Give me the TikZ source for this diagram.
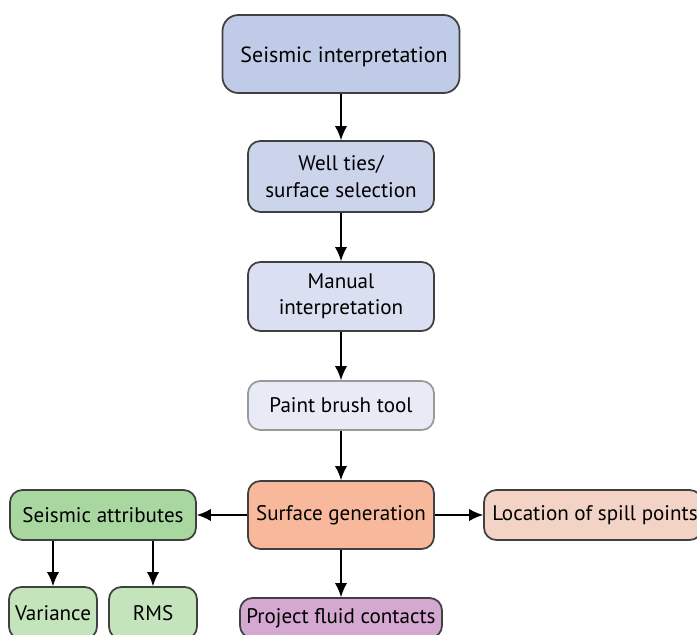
\documentclass[tikz,border=0pt]{standalone}
\usepackage{fontspec}
\setmainfont{PT Sans}
\usetikzlibrary{arrows.meta}
\definecolor{seisblue}{HTML}{C0CBE7}
\definecolor{wellblue}{HTML}{CCD4EC}
\definecolor{manblue}{HTML}{DAE0F2}
\definecolor{paintblue}{HTML}{E8EBF6}
\definecolor{surforange}{HTML}{F7B89C}
\definecolor{spillpink}{HTML}{F3D3C5}
\definecolor{attrgreen}{HTML}{A8D8A0}
\definecolor{lightgreen}{HTML}{C4E4BC}
\definecolor{fluidpurple}{HTML}{D4A8D0}
\begin{document}
\begin{tikzpicture}[x=0.02cm,y=-0.02cm,
    box/.style={draw=black!75, line width=1pt, rounded corners=7pt, align=center,
      inner sep=0pt, font=\fontsize{12}{15}\selectfont},
    arr/.style={-{Latex[length=8pt,width=7pt]}, line width=0.9pt}]
    \useasboundingbox (0,0) rectangle (697,635);
    \clip (0,0) rectangle (697,635);
    % main column
    \node[box, fill=seisblue, rounded corners=9pt, minimum width=4.74cm, minimum height=1.56cm, font=\fontsize{12.5}{15}\selectfont] (seis) at (341,54) {};
    \node[font=\fontsize{12.5}{15}\selectfont] (seistext) at (344,57) {Seismic interpretation};
    \node[box, fill=wellblue, minimum width=3.72cm, minimum height=1.42cm] (well) at (341,176.5) {Well ties/\\surface selection};
    \node[box, fill=manblue, minimum width=3.72cm, minimum height=1.38cm] (manual) at (341,296.5) {Manual\\interpretation};
    \node[box, draw=black!40, fill=paintblue, minimum width=3.72cm, minimum height=0.98cm] (paint) at (341,405.5) {Paint brush tool};
    \node[box, fill=surforange, minimum width=3.72cm, minimum height=1.36cm] (surf) at (341,515) {Surface generation};
    % side boxes
    \node[box, fill=spillpink, minimum width=4.36cm, minimum height=1cm] (spill) at (593,515) {\hspace*{0.08cm}Location of spill points\hfill};
    \node[box, fill=attrgreen, minimum width=3.72cm, minimum height=1cm] (attr) at (103,515) {Seismic attributes};
    \node[box, fill=lightgreen, minimum width=1.76cm, minimum height=1.04cm] (var) at (53,613) {Variance};
    \node[box, fill=lightgreen, minimum width=1.76cm, minimum height=1.04cm] (rms) at (153,613) {RMS};
    \node[box, fill=fluidpurple, minimum width=4.04cm, minimum height=0.8cm] (fluid) at (341,618) {Project fluid contacts};
    % connectors
    \draw[arr] (seis) -- (well);
    \draw[arr] (well) -- (manual);
    \draw[arr] (manual) -- (paint);
    \draw[arr] (paint) -- (surf);
    \draw[arr] (surf) -- (attr);
    \draw[arr] (surf) -- (spill);
    \draw[arr] (surf) -- (fluid);
    \draw[arr] (var |- attr.south) -- (var.north);
    \draw[arr] (rms |- attr.south) -- (rms.north);
\end{tikzpicture}
\end{document}
